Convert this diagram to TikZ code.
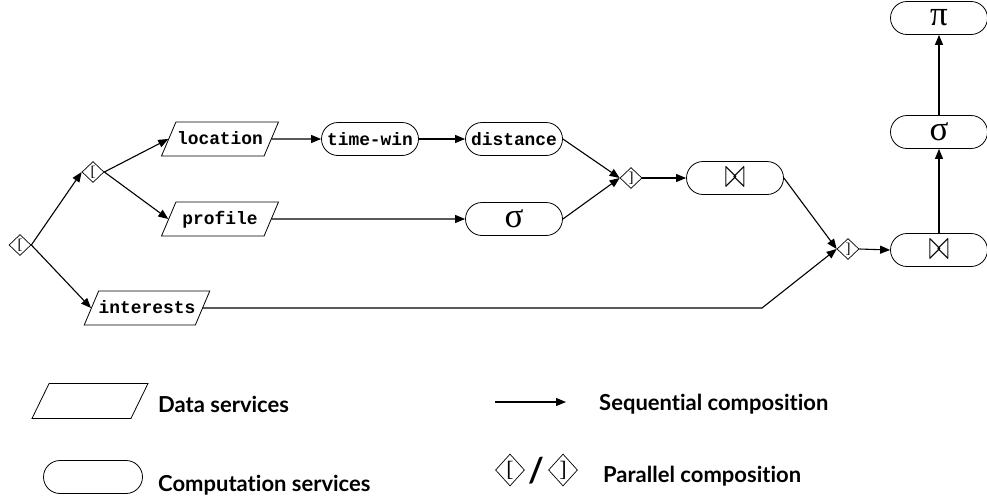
\documentclass[tikz,border=0pt]{standalone}
\usepackage{fontspec}
\usetikzlibrary{shapes.geometric,shapes.misc,arrows.meta}
\newfontfamily\codefont{Liberation Mono}
\newfontfamily\greekfont{Liberation Serif}
\newfontfamily\legendfont[Ligatures=NoCommon]{Lato}
\begin{document}
\begin{tikzpicture}[x=1pt,y=-1pt,
  conn/.style={line width=1.1pt,-{Triangle[length=10pt,width=8pt]}},
  datasvc/.style={trapezium, trapezium left angle=67, trapezium right angle=113,
    trapezium stretches body, draw, line width=0.8pt, minimum width=117pt,
    text height=13.5pt, text depth=2.5pt, inner ysep=9pt, inner xsep=0pt,
    font=\codefont\bfseries\fontsize{17.9}{20}\selectfont},
  compsvc/.style={rounded rectangle, draw, line width=0.8pt, minimum width=97pt,
    minimum height=33pt, inner sep=0pt,
    font=\codefont\bfseries\fontsize{17.9}{20}\selectfont},
  greek/.style={font=\greekfont\fontsize{35}{35}\selectfont},
  joinop/.style={font=\fontsize{34}{34}\selectfont},
  parop/.style={diamond, draw, line width=0.7pt, minimum width=22pt,
    minimum height=21pt, inner sep=0pt,
    font=\greekfont\fontsize{15}{15}\selectfont},
  bigparop/.style={parop, minimum width=29pt, minimum height=32pt,
    font=\greekfont\fontsize{22}{22}\selectfont},
  legtext/.style={anchor=base west, inner sep=0pt,
    font=\legendfont\bfseries\fontsize{22}{24}\selectfont}
]
\useasboundingbox (0,0) rectangle (987,498);

% parallel operators
\node[parop] (d1) at (20,245) {[};
\node[parop] (d2) at (93,172) {[};
\node[parop] (d3) at (631,178) {]};
\node[parop] (d4) at (848,249) {]};

% data services
\node[datasvc] (loc) at (220,139) {location};
\node[datasvc] (prof) at (220,219) {profile};
\node[datasvc] (int) at (147,308) {interests};

% computation services
\node[compsvc] (tw) at (370,139) {time-win};
\node[compsvc] (dist) at (514,139) {distance};
\node[compsvc, greek] (sigA) at (514,219) {σ};
\node[compsvc, joinop] (joinA) at (735,178) {\scalebox{1}[1.7]{$\bowtie$}};
\node[compsvc, joinop] (joinB) at (939,250) {\scalebox{1}[1.7]{$\bowtie$}};
\node[compsvc, greek] (sigB) at (939,132) {σ};
\node[compsvc, greek] (proj) at (939,18) {π};

% connectors
\draw[conn] (d1.east) -- (d2.west);
\draw[conn] (d1.east) -- (int.west);
\draw[conn] (d2.east) -- (loc.west);
\draw[conn] (d2.east) -- (prof.west);
\draw[conn] (loc.east) -- (tw.west);
\draw[conn] (tw.east) -- (dist.west);
\draw[conn] (prof.east) -- (sigA.west);
\draw[conn] (dist.east) -- (d3.west);
\draw[conn] (sigA.east) -- (d3.west);
\draw[conn] (d3.east) -- (joinA.west);
\draw[conn] (joinA.east) -- (d4.west);
\coordinate (bend) at (762,308);
\draw[conn] (int.east) -- (bend) -- (d4.west);
\draw[conn] (d4.east) -- (joinB.west);
\draw[conn] (joinB.north) -- (sigB.south);
\draw[conn] (sigB.north) -- (proj.south);

% legend
\node[datasvc, trapezium left angle=64, trapezium right angle=116,
  minimum width=116pt, inner ysep=9.5pt] (lgdata) at (90,401) {};
\node[legtext] (lgdatat) at (158,412) {Data services};
\node[compsvc, minimum width=99pt] (lgcomp) at (93,477) {};
\node[legtext] (lgcompt) at (158,491) {Computation services};
\coordinate (lgs) at (495,402);
\coordinate (lge) at (566,402);
\draw[conn] (lgs) -- (lge);
\node[legtext] (lgseqt) at (599,410) {Sequential composition};
\node[bigparop] (lgpo) at (510,470) {[};
\node[inner sep=0pt, font=\legendfont\bfseries\fontsize{34}{34}\selectfont] (lgslash) at (536,471) {/};
\node[bigparop] (lgpc) at (563,470) {]};
\node[legtext] (lgpart) at (603,482) {Parallel composition};
\end{tikzpicture}
\end{document}
